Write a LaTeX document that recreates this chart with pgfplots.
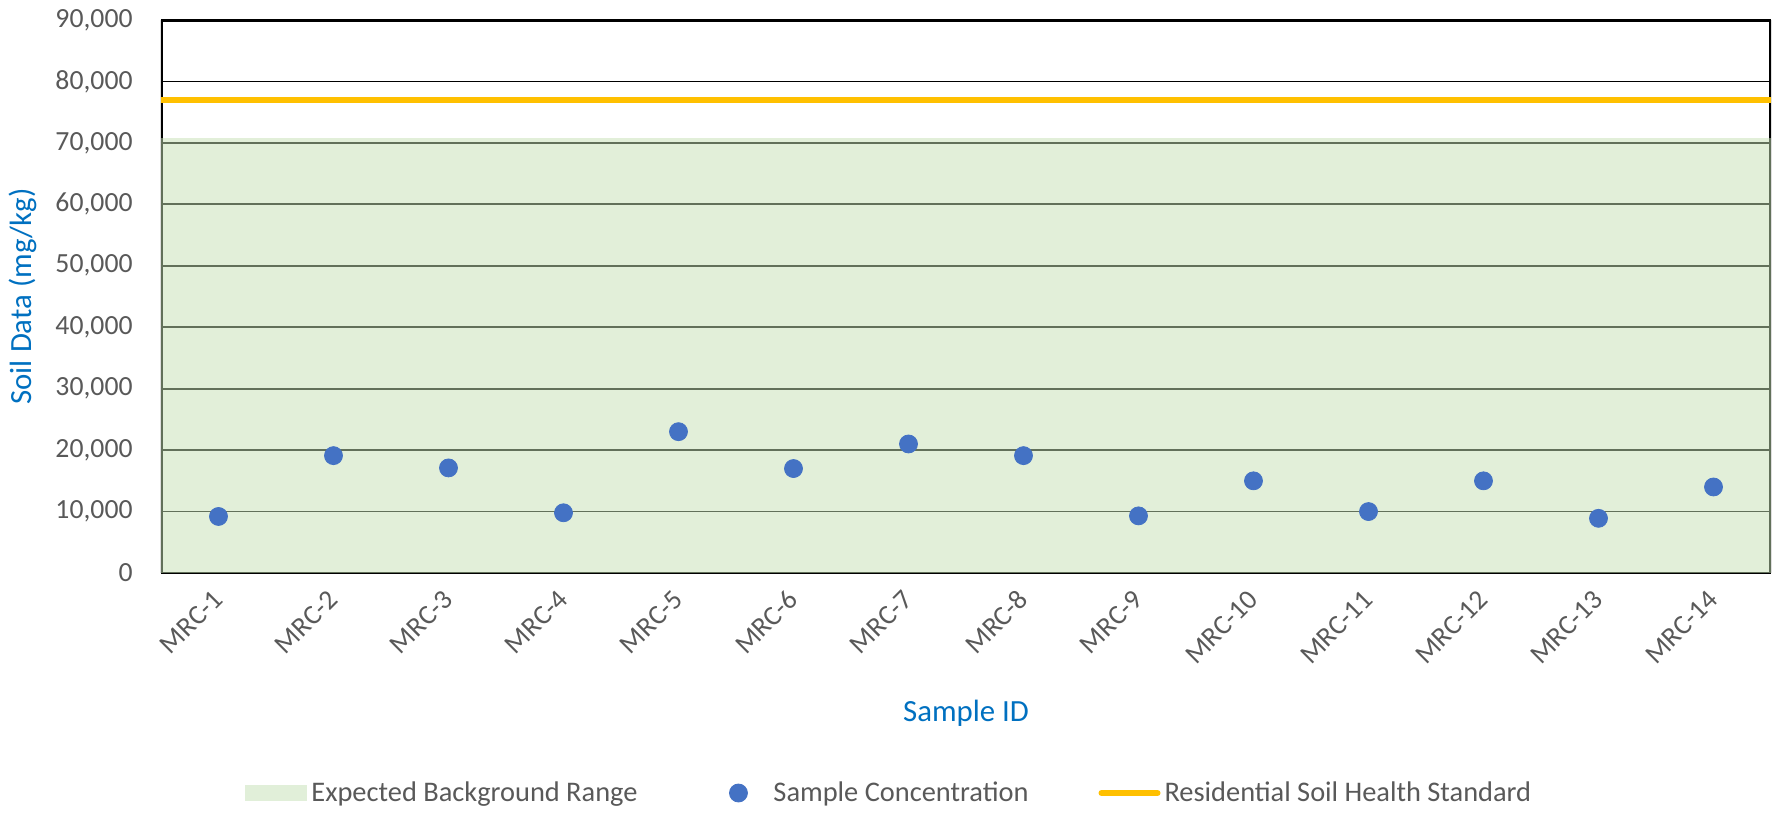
\documentclass[border=0pt]{standalone}
\usepackage{pgfplots}
\pgfplotsset{compat=1.18}
\usepackage{fontspec}
\setmainfont{Carlito}
\definecolor{tickgray}{HTML}{595959}
\definecolor{titleblue}{HTML}{0070C0}
\definecolor{bggreen}{HTML}{C5E0B4}
\definecolor{stdorange}{HTML}{FFC000}
\definecolor{ptblue}{HTML}{4472C4}
\definecolor{tickmark}{HTML}{D9D9D9}
\newcommand{\tickfont}{\fontsize{13.85}{16}\selectfont}
\newcommand{\legfont}{\fontsize{14.2}{16}\selectfont}
\newcommand{\titlefont}{\fontsize{15.4}{18}\selectfont}
\pgfplotstableread{
x y
1 9200
2 19100
3 17100
4 9800
5 23000
6 17000
7 21000
8 19100
9 9300
10 15000
11 10000
12 15000
13 8900
14 14000
}\samples
\begin{document}
\begin{tikzpicture}
\path[use as bounding box] (-80.5pt,-120.5pt) rectangle (811.5pt,286.5pt);
\begin{axis}[
  at={(0,0)}, anchor=south west,
  scale only axis, width=805pt, height=276.5pt,
  xmin=0.5, xmax=14.5, ymin=0, ymax=90000,
  axis line style={draw=none},
  xtick={1,...,14},
  xticklabels={MRC-1,MRC-2,MRC-3,MRC-4,MRC-5,MRC-6,MRC-7,MRC-8,MRC-9,MRC-10,MRC-11,MRC-12,MRC-13,MRC-14},
  major x tick style={draw=none},
  extra x ticks={0.5,1.5,...,14.5},
  extra x tick labels={},
  extra x tick style={tick align=outside, major tick length=4pt, tick style={draw=tickmark, line width=1pt}, grid=none},
  xticklabel style={font=\tickfont, text=tickgray, rotate=45, anchor=east, inner sep=0pt},
  xticklabel shift=11pt,
  ytick={0,10000,...,90000},
  scaled y ticks=false,
  ytick style={draw=none},
  yticklabel style={font=\tickfont, text=tickgray, anchor=east, inner sep=0pt, xshift=-14pt},
  /pgf/number format/.cd, 1000 sep={,}, assume math mode=true, /pgfplots/.cd,
  ymajorgrids, grid style={black, line width=0.9pt},
  xlabel={Sample ID},
  xlabel style={font=\titlefont, text=titleblue, at={(axis description cs:0.5,0)}, yshift=-70pt, anchor=center},
  ylabel={Soil Data (mg/kg)},
  ylabel style={font=\titlefont, text=titleblue, at={(axis description cs:-0.0857,0.5)}, anchor=center},
  legend columns=3,
  legend style={at={(axis description cs:0.453,0)}, anchor=center, yshift=-110pt, draw=none, font=\legfont, text=tickgray,
    /tikz/every even column/.append style={column sep=33pt},
    nodes={inner sep=2pt}},
  legend cell align=left,
]
\draw[black, line width=2pt] (rel axis cs:0,0) -- (rel axis cs:0,1) -- (rel axis cs:1,1) -- (rel axis cs:1,0);
\draw[black, line width=1pt] (rel axis cs:0,0) -- (rel axis cs:1,0);
\addplot[draw=none, fill=bggreen, fill opacity=0.5,
  legend image code/.code={\fill[bggreen] (0pt,-4pt) rectangle (31pt,4pt);}]
  coordinates {(0.5,70800) (14.5,70800)} \closedcycle;
\addlegendentry{Expected Background Range}
\addplot[only marks, mark=*, mark size=4.5pt, color=ptblue,
  legend image code/.code={\path[draw=none, fill=none] (0pt,-1pt) rectangle (31pt,1pt); \fill[ptblue] (15.5pt,0pt) circle (4.5pt);}]
  table[x=x, y=y] {\samples};
\addlegendentry{Sample Concentration}
\addplot[stdorange, line width=3pt,
  legend image code/.code={\draw[stdorange, line width=3pt, line cap=round] (1.5pt,0pt) -- (29.5pt,0pt);}]
  coordinates {(0.5,77000) (14.5,77000)};
\addlegendentry{Residential Soil Health Standard}
\end{axis}
\end{tikzpicture}
\end{document}
